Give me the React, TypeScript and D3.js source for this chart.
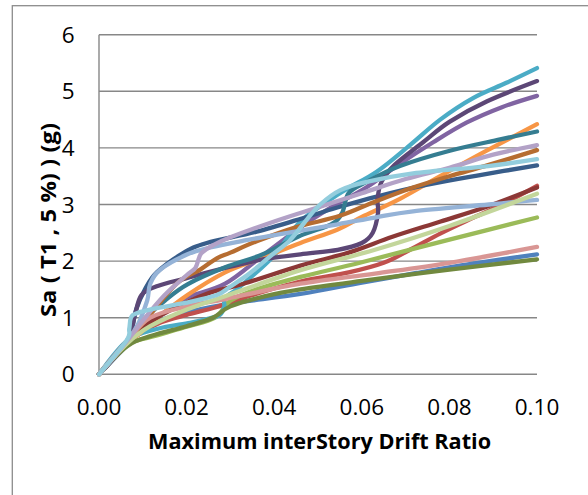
import React from 'react';
import * as d3 from 'd3';

const yTicks = [0, 1, 2, 3, 4, 5, 6];
const xTicks = [0, 0.02, 0.04, 0.06, 0.08, 0.1];
const xTickLabels = ['0.00', '0.02', '0.04', '0.06', '0.08', '0.10'];
const xTitle = 'Maximum interStory Drift Ratio';
const yTitle = 'Sa ( T1 , 5 %) ) (g)';

// [max interstory drift ratio, Sa(T1,5%) in g]
const blue = [[0, 0], [0.0065, 0.52], [0.01, 0.8], [0.015, 0.98], [0.02, 1.1], [0.03, 1.25], [0.046, 1.42], [0.06, 1.62], [0.0725, 1.79], [0.085, 1.95], [0.1, 2.12]];
const red = [[0, 0], [0.0065, 0.55], [0.01, 0.75], [0.0142, 0.92], [0.02, 1.05], [0.0269, 1.19], [0.035, 1.4], [0.046, 1.64], [0.057, 1.8], [0.065, 1.97], [0.071, 2.2], [0.078, 2.49], [0.085, 2.75], [0.092, 3.0], [0.1, 3.33]];
const green = [[0, 0], [0.0065, 0.52], [0.013, 0.68], [0.02, 0.84], [0.0265, 1.0], [0.03, 1.3], [0.036, 1.5], [0.046, 1.72], [0.06, 1.98], [0.08, 2.38], [0.1, 2.77]];
const purple = [[0, 0], [0.0065, 0.55], [0.01, 0.85], [0.015, 1.1], [0.02, 1.35], [0.0288, 1.6], [0.0374, 2.1], [0.046, 2.6], [0.053, 2.95], [0.061, 3.3], [0.0687, 3.72], [0.0763, 4.1], [0.084, 4.45], [0.092, 4.72], [0.1, 4.92]];
const aqua = [[0, 0], [0.0065, 0.6], [0.0132, 0.8], [0.0208, 0.91], [0.0253, 0.99], [0.0276, 1.05], [0.0286, 1.2], [0.0285, 1.32], [0.0295, 1.4], [0.0322, 1.55], [0.04, 2.1], [0.046, 2.7], [0.055, 3.2], [0.0634, 3.58], [0.071, 4.05], [0.0779, 4.5], [0.0854, 4.88], [0.093, 5.15], [0.1, 5.41]];
const orange = [[0, 0], [0.0065, 0.55], [0.0091, 0.71], [0.0134, 1.0], [0.0202, 1.4], [0.0288, 1.8], [0.0374, 2.06], [0.046, 2.32], [0.0545, 2.56], [0.06, 2.78], [0.0687, 3.1], [0.0779, 3.5], [0.0885, 3.95], [0.1, 4.42]];
const darkBlue = [[0, 0], [0.0065, 0.6], [0.0085, 1.15], [0.0105, 1.5], [0.0132, 1.8], [0.0192, 2.14], [0.0246, 2.32], [0.036, 2.52], [0.0474, 2.78], [0.055, 2.96], [0.0634, 3.14], [0.075, 3.35], [0.087, 3.52], [0.1, 3.69]];
const darkRed = [[0, 0], [0.0065, 0.55], [0.01, 0.83], [0.016, 1.12], [0.0245, 1.42], [0.033, 1.6], [0.046, 1.92], [0.057, 2.15], [0.067, 2.43], [0.078, 2.7], [0.0885, 2.96], [0.1, 3.3]];
const darkGreen = [[0, 0], [0.0065, 0.5], [0.012, 0.68], [0.02, 0.85], [0.026, 1.0], [0.03, 1.2], [0.038, 1.38], [0.046, 1.5], [0.06, 1.65], [0.08, 1.85], [0.1, 2.03]];
const darkPurple = [[0, 0], [0.0065, 0.6], [0.0082, 1.05], [0.0097, 1.4], [0.0134, 1.56], [0.02, 1.7], [0.0288, 1.88], [0.0374, 2.03], [0.046, 2.12], [0.0545, 2.2], [0.06, 2.32], [0.0625, 2.5], [0.0637, 2.85], [0.0636, 3.1], [0.0645, 3.4], [0.0675, 3.7], [0.074, 4.1], [0.08, 4.46], [0.0885, 4.82], [0.1, 5.18]];
const darkAqua = [[0, 0], [0.0065, 0.6], [0.01, 0.95], [0.015, 1.3], [0.0202, 1.59], [0.0288, 1.89], [0.0374, 2.12], [0.046, 2.45], [0.053, 2.65], [0.0555, 2.85], [0.057, 3.2], [0.0611, 3.4], [0.0687, 3.68], [0.0801, 3.95], [0.0916, 4.15], [0.1, 4.29]];
const darkOrange = [[0, 0], [0.0065, 0.6], [0.01, 0.9], [0.0177, 1.6], [0.0231, 1.85], [0.0269, 2.05], [0.03, 2.15], [0.036, 2.35], [0.0451, 2.6], [0.055, 2.8], [0.063, 3.05], [0.0717, 3.3], [0.08, 3.5], [0.089, 3.7], [0.1, 3.96]];
const lightBlue = [[0, 0], [0.0065, 0.6], [0.009, 0.9], [0.011, 1.3], [0.0117, 1.6], [0.014, 1.85], [0.0202, 2.12], [0.0254, 2.24], [0.033, 2.36], [0.0417, 2.48], [0.0545, 2.65], [0.063, 2.77], [0.0717, 2.88], [0.089, 3.0], [0.1, 3.08]];
const lightRed = [[0, 0], [0.0065, 0.6], [0.0117, 1.0], [0.0202, 1.2], [0.0288, 1.33], [0.046, 1.6], [0.063, 1.78], [0.08, 1.97], [0.1, 2.25]];
const lightGreen = [[0, 0], [0.0065, 0.55], [0.0117, 0.85], [0.0202, 1.15], [0.0288, 1.38], [0.046, 1.84], [0.063, 2.2], [0.08, 2.62], [0.1, 3.19]];
const lightPurple = [[0, 0], [0.0065, 0.6], [0.01, 0.95], [0.015, 1.4], [0.02, 1.75], [0.022, 1.88], [0.0228, 2.05], [0.0235, 2.15], [0.026, 2.28], [0.03, 2.42], [0.04, 2.7], [0.05, 2.95], [0.06, 3.2], [0.07, 3.45], [0.08, 3.65], [0.09, 3.88], [0.1, 4.05]];
const lightAqua = [[0, 0], [0.0063, 0.6], [0.0069, 0.8], [0.0073, 1.0], [0.0086, 1.08], [0.0132, 1.17], [0.0208, 1.28], [0.0269, 1.4], [0.03, 1.55], [0.0345, 1.79], [0.039, 2.08], [0.0436, 2.37], [0.0474, 2.73], [0.0505, 3.0], [0.055, 3.25], [0.0611, 3.4], [0.0717, 3.55], [0.0889, 3.68], [0.1, 3.8]];

const seriesList = [blue, red, green, purple, aqua, orange, darkBlue, darkRed, darkGreen, darkPurple, darkAqua, darkOrange, lightBlue, lightRed, lightGreen, lightPurple, lightAqua];
const seriesColors = ['#4F81BD', '#C0504D', '#9BBB59', '#8064A2', '#4BACC6', '#F79646', '#385D8A', '#8C3836', '#71893F', '#5C4776', '#357D91', '#B66D31', '#95B3D7', '#D99694', '#C3D69B', '#B3A2C7', '#93CDDD'];

export default function App() {
  const W = 588, H = 495;
  const x = d3.scaleLinear().domain([0, 0.1]).range([99, 537]);
  const y = d3.scaleLinear().domain([0, 6]).range([374.3, 34.7]);
  const line = d3.line<number[]>()
    .x(d => x(d[0]))
    .y(d => y(d[1]))
    .curve(d3.curveCatmullRom.alpha(0));
  const font = "'Open Sans', 'Noto Sans', sans-serif";
  return (
    <svg width={W} height={H} style={{ position: 'absolute', left: 0, top: 0, background: '#fff' }}>
      <rect x={0} y={0} width={W} height={H} fill="#fff" />
      <rect x={12.3} y={5.7} width={700} height={600} fill="none" stroke="#8c8c8c" strokeWidth={1.3} />
      {yTicks.map(t => (
        <line key={'g' + t} x1={x(0)} x2={x(0.1)} y1={y(t)} y2={y(t)} stroke="#878787" strokeWidth={1.4} />
      ))}
      <line x1={x(0)} x2={x(0)} y1={y(6)} y2={y(0)} stroke="#878787" strokeWidth={1.4} />
      {seriesList.map((s, i) => (
        <path key={'s' + i} d={line(s) || ''} fill="none" stroke={seriesColors[i]} strokeWidth={4.3} strokeLinecap="round" strokeLinejoin="round" />
      ))}
      {yTicks.map(t => (
        <text key={'yl' + t} x={74.5} y={y(t) + 8} textAnchor="end" fontFamily={font} fontSize={22.5} fill="#000">{String(t)}</text>
      ))}
      {xTicks.map((t, i) => (
        <text key={'xl' + i} x={x(t)} y={415} textAnchor="middle" fontFamily={font} fontSize={22.5} fill="#000">{xTickLabels[i]}</text>
      ))}
      <text x={319.6} y={448.5} textAnchor="middle" fontFamily={font} fontWeight="bold" fontSize={21.5} textLength={343} lengthAdjust="spacingAndGlyphs" fill="#000">{xTitle}</text>
      <text transform={`translate(55.5, 220) rotate(-90)`} textAnchor="middle" fontFamily={font} fontWeight="bold" fontSize={21.5} textLength={194} lengthAdjust="spacingAndGlyphs" fill="#000">{yTitle}</text>
    </svg>
  );
}
